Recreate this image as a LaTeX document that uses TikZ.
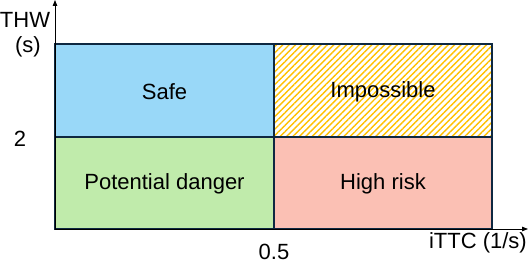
\documentclass[tikz,border=0pt]{standalone}
\usepackage{fontspec}
\setmainfont{Liberation Sans}
\usetikzlibrary{arrows.meta,patterns.meta}
\definecolor{safeblue}{RGB}{153,216,248}
\definecolor{dangergreen}{RGB}{192,235,171}
\definecolor{riskpink}{RGB}{251,192,180}
\definecolor{hatchyellow}{RGB}{255,192,0}
\definecolor{edgenavy}{RGB}{14,40,65}
\begin{document}
\begin{tikzpicture}[
    x=1pt, y=1pt,
    >={Triangle[length=6pt,width=4.5pt]},
    zone/.style={draw=edgenavy, line width=1.8pt},
    axis/.style={->, line width=0.8pt},
    lbl/.style={font=\fontsize{22}{25}\selectfont, inner sep=0pt}
  ]
    \useasboundingbox (0,0) rectangle (528,264);

    %--- Zones ---
    \fill[safeblue] (55,127) rectangle (274,220);
    \fill[dangergreen] (55,35) rectangle (274,127);
    \fill[riskpink] (274,35) rectangle (492,127);
    \fill[pattern={Lines[angle=45,distance=4.5pt,line width=1.4pt]},
          pattern color=hatchyellow] (274,127) rectangle (492,220);
    \draw[zone] (55,35) rectangle (492,220);
    \draw[zone] (274,35) -- (274,220);
    \draw[zone] (55,127) -- (492,127);

    \node[lbl] (safe) at (164.5,172) {Safe};
    \node[lbl] (imp)  at (383,172)   {Impossible};
    \node[lbl] (pot)  at (164.5,80)  {Potential danger};
    \node[lbl] (risk) at (383,80)    {High risk};

    %--- Axes ---
    \coordinate (orig) at (55,35);
    \coordinate (ytip) at (55,264);
    \coordinate (xtip) at (528,35);
    \draw[axis] (orig) -- (ytip);
    \draw[axis] (orig) -- (xtip);

    \node[lbl] (thw)  at (25,244)  {THW};
    \node[lbl] (unit) at (28,217)  {(s)};
    \node[lbl] (two)  at (20,125)  {2};
    \node[lbl] (half) at (274,12)  {0.5};
    \node[lbl, anchor=east] (ittc) at (527,21) {iTTC (1/s)};
\end{tikzpicture}
\end{document}
